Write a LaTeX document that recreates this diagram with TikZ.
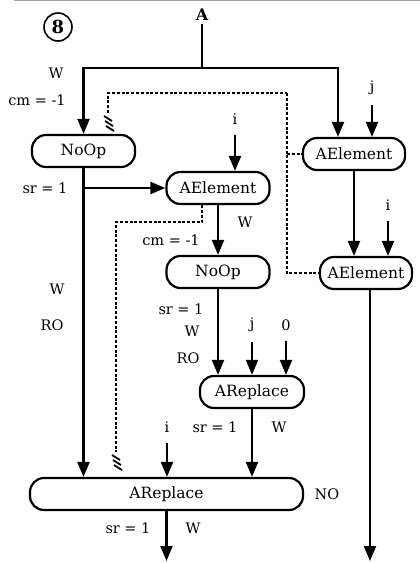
\documentclass[tikz,border=0pt]{standalone}
\usepackage{fontspec}
\setmainfont{DejaVu Serif}
\usetikzlibrary{arrows.meta}
\tikzset{
  box/.style={draw, line width=2.2pt, rounded corners=14pt, minimum height=32pt, inner sep=0pt, font=\fontsize{15.5}{17}\selectfont},
  lbl/.style={inner sep=0pt, font=\fontsize{14.5}{16}\selectfont},
  arr/.style={line width=2.2pt, -{Triangle[length=15pt,width=12pt]}},
  ln/.style={line width=2.2pt},
  dsh/.style={line width=1.6pt, dash pattern=on 3pt off 1.8pt},
  hatch/.style={line width=1.8pt}
}
\begin{document}
\begin{tikzpicture}[x=1pt,y=-1pt]
\useasboundingbox (0,0) rectangle (420,563);
\draw[gray!70, line width=1pt] (14,0.8) -- (420,0.8);
% title circle
\node[draw, circle, line width=1.6pt, minimum size=28pt, inner sep=0pt, font=\fontsize{18}{18}\selectfont\bfseries] (c8) at (58,27) {8};
% nodes
\node[box, minimum width=103pt] (noop1) at (83.5,151) {NoOp};
\node[box, minimum width=103pt] (aelm) at (218,188) {AElement};
\node[box, minimum width=102pt] (ael1) at (354,154) {AElement};
\node[box, minimum width=92pt] (ael2) at (366,273) {AElement};
\node[box, minimum width=103pt] (noop2) at (218,272) {NoOp};
\node[box, minimum width=104pt] (arep2) at (252,392) {AReplace};
\node[box, minimum width=273pt] (arep1) at (166.5,494) {AReplace};
% text labels
\node[lbl, font=\fontsize{16}{17}\selectfont\bfseries] (a) at (202,15) {A};
\node[lbl] (j1) at (372,88) {j};
\node[lbl] (i1) at (235,119) {i};
\node[lbl] (i2) at (388,205) {i};
\node[lbl] (j2) at (252,325) {j};
\node[lbl] (z2) at (286,325) {0};
\node[lbl] (i3) at (167,427) {i};
\node[lbl] at (56,73) {W};
\node[lbl] at (37,100) {cm = -1};
\node[lbl] at (45,188) {sr = 1};
\node[lbl] at (57,289) {W};
\node[lbl] at (52,325) {RO};
\node[lbl] at (245,222) {W};
\node[lbl] at (171,240) {cm = -1};
\node[lbl] at (181,309) {sr = 1};
\node[lbl] at (192,331) {W};
\node[lbl] at (188,358) {RO};
\node[lbl] at (215,427) {sr = 1};
\node[lbl] at (279,427) {W};
\node[lbl] at (327,494) {NO};
\node[lbl] at (128,528) {sr = 1};
\node[lbl] at (193,528) {W};
% coordinates
\coordinate (a1) at (202,68);
\coordinate (out1) at (166.5,561);
\coordinate (out2) at (370,561);
% solid connectors
\draw[ln] ([yshift=-3pt]a.south) -- (a1);
\draw[arr] (a1) -| (noop1.north);
\draw[arr] (a1) -| ([xshift=-16pt]ael1.north);
\draw[arr] ([yshift=-10pt]j1.south) -- (j1.south |- ael1.north);
\draw[arr] ([yshift=-10pt]i1.south) -- (i1.south |- aelm.north);
\draw[arr] (noop1.south) -- (noop1.south |- arep1.north);
\draw[arr] (noop1.south |- aelm.west) -- (aelm.west);
\draw[arr] (aelm.south) -- (noop2.north);
\draw[arr] (noop2.south) -- (noop2.south |- arep2.north);
\draw[arr] ([yshift=-10pt]j2.south) -- (j2.south |- arep2.north);
\draw[arr] ([yshift=-10pt]z2.south) -- (z2.south |- arep2.north);
\draw[arr] (arep2.south) -- (arep2.south |- arep1.north);
\draw[arr] ([yshift=-10pt]i3.south) -- (i3.south |- arep1.north);
\draw[arr] (arep1.south) -- (out1);
\draw[arr] (ael1.south) -- (ael1.south |- ael2.north);
\draw[arr] ([yshift=-10pt]i2.south) -- (i2.south |- ael2.north);
\draw[arr] ([xshift=4pt]ael2.south) -- (out2);
% dashed connectors
\coordinate (h1) at (108,113);
\coordinate (dc) at (287,93);
\draw[dsh] (h1) |- (dc);
\draw[dsh] (dc) |- (ael2.west);
\draw[dsh] (dc |- ael1.west) -- (ael1.west);
\foreach \k in {0,1,2} {
  \draw[hatch] (104+\k,116+5*\k) -- (112+\k,121+5*\k);
}
\coordinate (h2) at (116,452);
\coordinate (d2) at (116,222);
\draw[dsh] ([xshift=-16pt]aelm.south) |- (d2) -- (h2);
\foreach \k in {0,1,2} {
  \draw[hatch] (112+\k,455+5*\k) -- (120+\k,460+5*\k);
}
\end{tikzpicture}
\end{document}
